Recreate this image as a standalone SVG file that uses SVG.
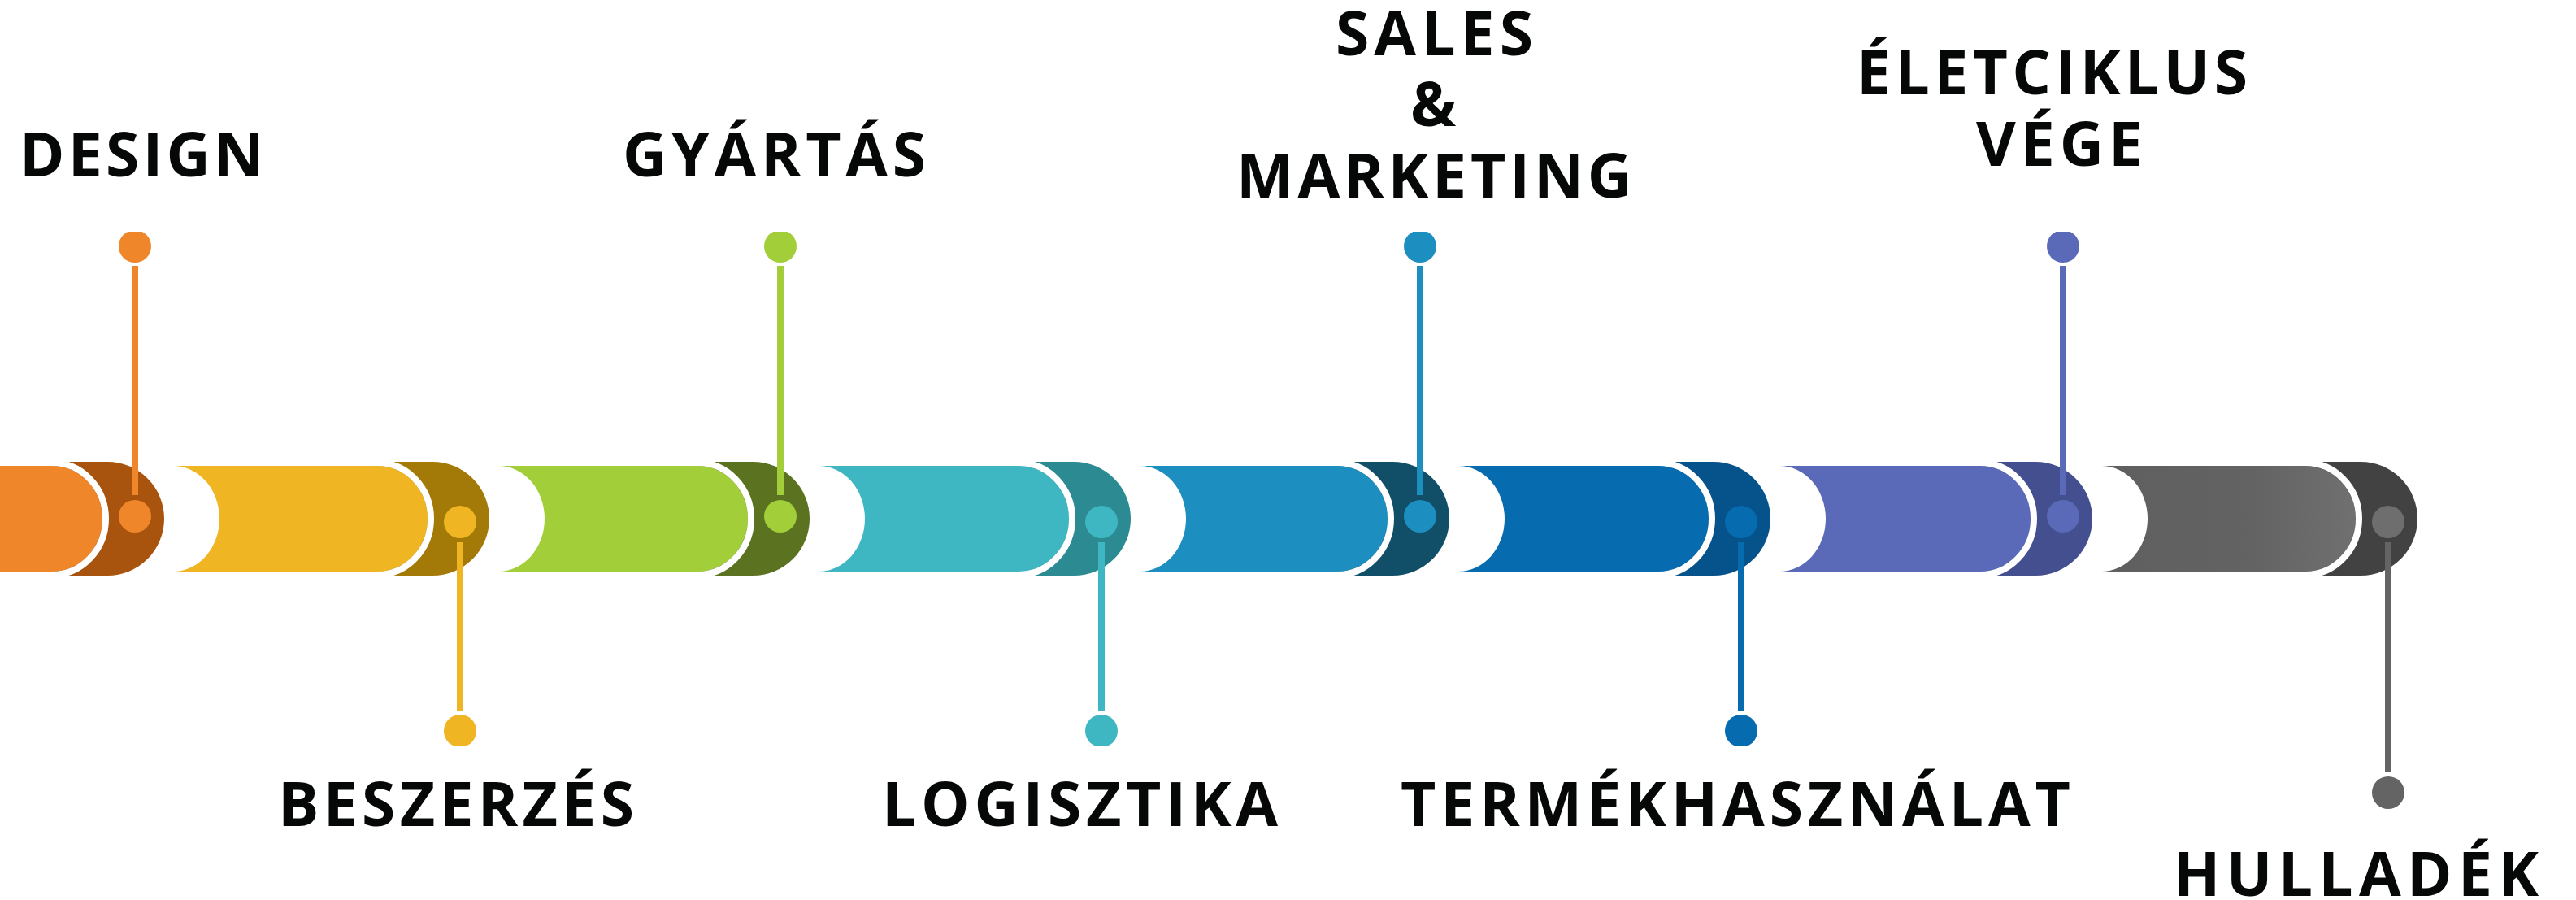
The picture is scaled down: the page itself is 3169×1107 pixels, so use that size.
<svg xmlns="http://www.w3.org/2000/svg" width="3169" height="1107" viewBox="0 0 3169 1107">
<style>
.lbl{font-family:"Open Sans","Liberation Sans",sans-serif;font-weight:700;font-size:75px;fill:#060807}
.gap{fill:none;stroke:#ffffff;stroke-width:8}
.stem{stroke-width:8;fill:none}
</style>
<defs>
<clipPath id="ct"><rect x="0" y="285" width="3169" height="800"/></clipPath>
<clipPath id="cb"><rect x="0" y="0" width="3169" height="917"/></clipPath>
<linearGradient id="gg" x1="0" y1="0" x2="1" y2="0"><stop offset="0" stop-color="#5f5f5f"/><stop offset="0.6" stop-color="#636363"/><stop offset="1" stop-color="#707070"/></linearGradient>
</defs>
<rect width="3169" height="1107" fill="#ffffff"/>

<g id="node-design">
<path d="M64,568 H132 A70 70 0 0 1 132,708 H64 Z" fill="#A8540E"/>
<path d="M0,573 H64 A62 65 0 0 1 64,703 H0 Z" fill="#F0862A"/>
<path class="gap" d="M64,569 A66 69 0 0 1 64,707"/>
<circle cx="166" cy="635" r="20" fill="#F0862A"/>
<circle cx="166" cy="303" r="20" fill="#F0862A" clip-path="url(#ct)"/>
<text class="lbl" x="24" y="217" textLength="300" lengthAdjust="spacing">DESIGN</text>
</g>

<g id="node-beszerzes">
<path d="M464,568 H532 A70 70 0 0 1 532,708 H464 Z" fill="#A37A07"/>
<path d="M213,573 H464 A62 65 0 0 1 464,703 H213 A57 65 0 0 0 213,573 Z" fill="#EFB522"/>
<path class="gap" d="M464,569 A66 69 0 0 1 464,707"/>
<circle cx="566" cy="642" r="20" fill="#EFB522"/>
<circle cx="566" cy="899" r="20" fill="#EFB522" clip-path="url(#cb)"/>
<text class="lbl" x="342" y="1016" textLength="438" lengthAdjust="spacing">BESZERZÉS</text>
</g>

<g id="node-gyartas">
<path d="M858,568 H926 A70 70 0 0 1 926,708 H858 Z" fill="#5B7220"/>
<path d="M613,573 H858 A62 65 0 0 1 858,703 H613 A57 65 0 0 0 613,573 Z" fill="#A2CE39"/>
<path class="gap" d="M858,569 A66 69 0 0 1 858,707"/>
<circle cx="960" cy="635" r="20" fill="#A2CE39"/>
<circle cx="960" cy="303" r="20" fill="#A2CE39" clip-path="url(#ct)"/>
<text class="lbl" x="766" y="217" textLength="373" lengthAdjust="spacing">GYÁRTÁS</text>
</g>

<g id="node-logisztika">
<path d="M1253,568 H1321 A70 70 0 0 1 1321,708 H1253 Z" fill="#2C8A93"/>
<path d="M1007,573 H1253 A62 65 0 0 1 1253,703 H1007 A57 65 0 0 0 1007,573 Z" fill="#3FB7C2"/>
<path class="gap" d="M1253,569 A66 69 0 0 1 1253,707"/>
<circle cx="1355" cy="642" r="20" fill="#3FB7C2"/>
<circle cx="1355" cy="899" r="20" fill="#3FB7C2" clip-path="url(#cb)"/>
<text class="lbl" x="1085" y="1016" textLength="487" lengthAdjust="spacing">LOGISZTIKA</text>
</g>

<g id="node-sales">
<path d="M1645,568 H1713 A70 70 0 0 1 1713,708 H1645 Z" fill="#114F69"/>
<path d="M1402,573 H1645 A62 65 0 0 1 1645,703 H1402 A57 65 0 0 0 1402,573 Z" fill="#1C8FC0"/>
<path class="gap" d="M1645,569 A66 69 0 0 1 1645,707"/>
<circle cx="1747" cy="635" r="20" fill="#1C8FC0"/>
<circle cx="1747" cy="303" r="20" fill="#1C8FC0" clip-path="url(#ct)"/>
<text class="lbl" x="1643" y="68" textLength="243" lengthAdjust="spacing">SALES</text>
<text class="lbl" x="1735" y="155">&amp;</text>
<text class="lbl" x="1521" y="243" textLength="486" lengthAdjust="spacing">MARKETING</text>
</g>

<g id="node-termekhasznalat">
<path d="M2040,568 H2108 A70 70 0 0 1 2108,708 H2040 Z" fill="#06528A"/>
<path d="M1794,573 H2040 A62 65 0 0 1 2040,703 H1794 A57 65 0 0 0 1794,573 Z" fill="#076BB0"/>
<path class="gap" d="M2040,569 A66 69 0 0 1 2040,707"/>
<circle cx="2142" cy="642" r="20" fill="#076BB0"/>
<circle cx="2142" cy="899" r="20" fill="#076BB0" clip-path="url(#cb)"/>
<text class="lbl" x="1723" y="1016" textLength="824" lengthAdjust="spacing">TERMÉKHASZNÁLAT</text>
</g>

<g id="node-eletciklus">
<path d="M2436,568 H2504 A70 70 0 0 1 2504,708 H2436 Z" fill="#434F8E"/>
<path d="M2189,573 H2436 A62 65 0 0 1 2436,703 H2189 A57 65 0 0 0 2189,573 Z" fill="#5B6AB8"/>
<path class="gap" d="M2436,569 A66 69 0 0 1 2436,707"/>
<circle cx="2538" cy="635" r="20" fill="#5B6AB8"/>
<circle cx="2538" cy="303" r="20" fill="#5B6AB8" clip-path="url(#ct)"/>
<text class="lbl" x="2284" y="116" textLength="481" lengthAdjust="spacing">ÉLETCIKLUS</text>
<text class="lbl" x="2431" y="204" textLength="205" lengthAdjust="spacing">VÉGE</text>
</g>

<g id="node-hulladek">
<path d="M2836,568 H2904 A70 70 0 0 1 2904,708 H2836 Z" fill="#424242"/>
<path d="M2585,573 H2836 A62 65 0 0 1 2836,703 H2585 A57 65 0 0 0 2585,573 Z" fill="url(#gg)"/>
<path class="gap" d="M2836,569 A66 69 0 0 1 2836,707"/>
<circle cx="2938" cy="642" r="20" fill="#6e6e6e"/>
<circle cx="2938" cy="975" r="20" fill="#646464"/>
<text class="lbl" x="2674" y="1102" textLength="449" lengthAdjust="spacing">HULLADÉK</text>
</g>

<g id="connectors">
<line class="stem" x1="166" y1="327" x2="166" y2="609" stroke="#F0862A"/>
<line class="stem" x1="566" y1="667" x2="566" y2="875" stroke="#EFB522"/>
<line class="stem" x1="960" y1="327" x2="960" y2="609" stroke="#A2CE39"/>
<line class="stem" x1="1355" y1="667" x2="1355" y2="875" stroke="#3FB7C2"/>
<line class="stem" x1="1747" y1="327" x2="1747" y2="609" stroke="#1C8FC0"/>
<line class="stem" x1="2142" y1="667" x2="2142" y2="875" stroke="#076BB0"/>
<line class="stem" x1="2538" y1="327" x2="2538" y2="609" stroke="#5B6AB8"/>
<line class="stem" x1="2938" y1="667" x2="2938" y2="949" stroke="#646464"/>
</g>
</svg>
